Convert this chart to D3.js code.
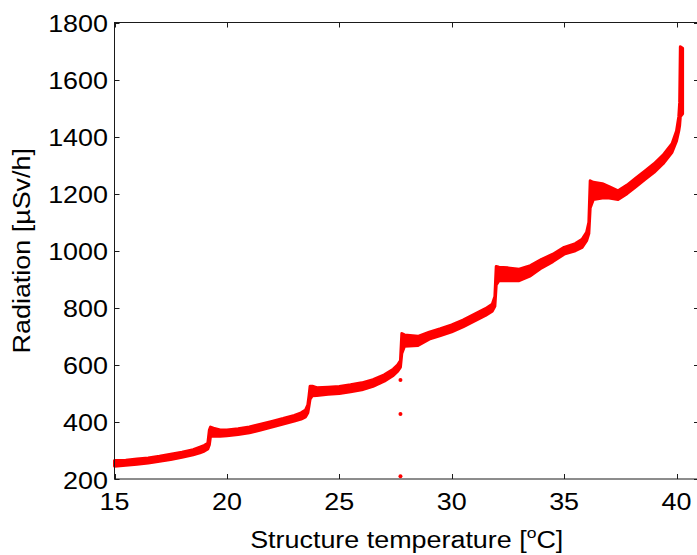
<!DOCTYPE html>
<html>
<head>
<meta charset="utf-8">
<script src="https://cdn.jsdelivr.net/npm/d3@7"></script>
<style>
  html, body { margin: 0; padding: 0; background: #fff; }
  svg { display: block; }
  text { font-family: "Liberation Sans", Arial, Helvetica, sans-serif; fill: #000; }
</style>
</head>
<body>
<svg id="chart" width="697" height="555"></svg>
<script>
// ---- data ----
const temps = [
  15.0, 15.5, 16.0, 16.5, 17.0, 17.5, 18.0, 18.5, 18.8, 19.0, 19.15,
  19.22, 19.27, 19.4, 19.7, 20.0, 20.5, 21.0, 21.5, 22.0, 22.5, 23.0, 23.3, 23.5, 23.6, 23.65,
  23.7, 23.8, 24.0, 24.5, 25.0, 25.5, 26.0, 26.5, 27.0, 27.4, 27.6, 27.72,
  27.78, 27.9, 28.5, 29.0, 29.5, 30.0, 30.5, 31.0, 31.5, 31.8, 31.92,
  31.98, 32.1, 32.5, 33.0, 33.5, 34.0, 34.5, 35.0, 35.5, 35.8, 36.0, 36.1,
  36.16, 36.3, 36.7, 37.0, 37.4, 37.8, 38.2, 38.6, 39.0, 39.4, 39.8, 40.0, 40.1, 40.14, 40.17, 40.27
];
const radLow = [
  245, 248, 252, 256, 262, 268, 276, 285, 292, 298, 305,
  320, 350, 350, 350, 352, 356, 362, 372, 382, 393, 403, 410, 418, 432, 455,
  480, 492, 493, 497, 500, 506, 513, 525, 543, 563, 578, 592,
  640, 665, 668, 690, 703, 716, 733, 753, 773, 788, 805,
  880, 895, 895, 895, 912, 940, 962, 988, 1000, 1012, 1035, 1060,
  1150, 1180, 1185, 1185, 1180, 1200, 1225, 1250, 1275, 1305, 1345, 1385, 1420, 1440, 1470, 1480
];
const radHigh = [
  265, 266, 270, 274, 280, 287, 294, 303, 312, 318, 325,
  372, 382, 378, 372, 372, 376, 382, 392, 402, 412, 423, 432, 442, 460, 490,
  525, 525, 520, 522, 524, 530, 537, 548, 565, 585, 600, 615,
  710, 705, 700, 715, 727, 740, 757, 777, 797, 812, 840,
  945, 942, 940, 935, 948, 970, 988, 1012, 1025, 1040, 1065, 1100,
  1245, 1240, 1235, 1225, 1210, 1230, 1255, 1280, 1305, 1335, 1375, 1420, 1470, 1520, 1715, 1710
];
const outlierTemps = [27.72, 27.72, 27.72];
const outlierRads  = [547, 428, 210];

const xTicks = [15, 20, 25, 30, 35, 40];
const yTicks = [200, 400, 600, 800, 1000, 1200, 1400, 1600, 1800];
const xLabel = "Structure temperature [";
const yLabel = "Radiation [µSv/h]";

// ---- layout ----
const svg = d3.select("#chart");
const mLeft = 114.5, mRight = 699, mTop = 22.5, mBottom = 479;
const x = d3.scaleLinear().domain([15, 41]).range([mLeft, mRight]);
const y = d3.scaleLinear().domain([200, 1800]).range([mBottom, mTop]);
const stretch = 1.17;
const fs = 23;

// data band
const band = temps.map((t, i) => ({ t, lo: radLow[i], hi: radHigh[i] }));
const area = d3.area()
  .x(d => x(d.t))
  .y0(d => y(d.lo))
  .y1(d => y(d.hi));
svg.append("path")
  .datum(band)
  .attr("d", area)
  .attr("fill", "#ff0000")
  .attr("stroke", "#ff0000")
  .attr("stroke-width", 3)
  .attr("stroke-linejoin", "round");

svg.selectAll("circle.out")
  .data(outlierTemps.map((t, i) => ({ t, r: outlierRads[i] })))
  .enter().append("circle")
  .attr("class", "out")
  .attr("cx", d => x(d.t))
  .attr("cy", d => y(d.r))
  .attr("r", 2)
  .attr("fill", "#ff0000");

// frame
const axisColor = "#1a1a1a";
svg.append("rect")
  .attr("x", mLeft).attr("y", mTop)
  .attr("width", mRight - mLeft).attr("height", mBottom - mTop)
  .attr("fill", "none").attr("stroke", axisColor).attr("stroke-width", 1);

const tl = 5;
xTicks.forEach(v => {
  const px = Math.round(x(v)) + 0.5;
  svg.append("line").attr("x1", px).attr("x2", px).attr("y1", mBottom).attr("y2", mBottom - tl)
    .attr("stroke", axisColor).attr("stroke-width", 1);
  svg.append("line").attr("x1", px).attr("x2", px).attr("y1", mTop).attr("y2", mTop + tl)
    .attr("stroke", axisColor).attr("stroke-width", 1);
  svg.append("text")
    .attr("transform", `translate(${x(v)},510) scale(${stretch},1)`)
    .attr("text-anchor", "middle")
    .attr("font-size", fs)
    .text(v);
});
yTicks.forEach(v => {
  const py = Math.round(y(v)) + 0.5;
  svg.append("line").attr("x1", mLeft).attr("x2", mLeft + tl).attr("y1", py).attr("y2", py)
    .attr("stroke", axisColor).attr("stroke-width", 1);
  svg.append("line").attr("x1", mRight).attr("x2", mRight - tl).attr("y1", py).attr("y2", py)
    .attr("stroke", axisColor).attr("stroke-width", 1);
  svg.append("text")
    .attr("transform", `translate(108,${y(v) + 9.5}) scale(${stretch},1)`)
    .attr("text-anchor", "end")
    .attr("font-size", fs)
    .text(v);
});

const xl = svg.append("text")
  .attr("transform", `translate(${(mLeft + mRight) / 2},548) scale(${stretch},1)`)
  .attr("text-anchor", "middle")
  .attr("font-size", fs);
xl.append("tspan").text(xLabel);
xl.append("tspan").attr("font-size", 15).attr("dy", -10).text("o");
xl.append("tspan").attr("dy", 10).text("C]");

svg.append("text")
  .attr("transform", `translate(30,${(mTop + mBottom) / 2}) rotate(-90) scale(${stretch},1)`)
  .attr("text-anchor", "middle")
  .attr("font-size", fs)
  .text(yLabel);
</script>
</body>
</html>
